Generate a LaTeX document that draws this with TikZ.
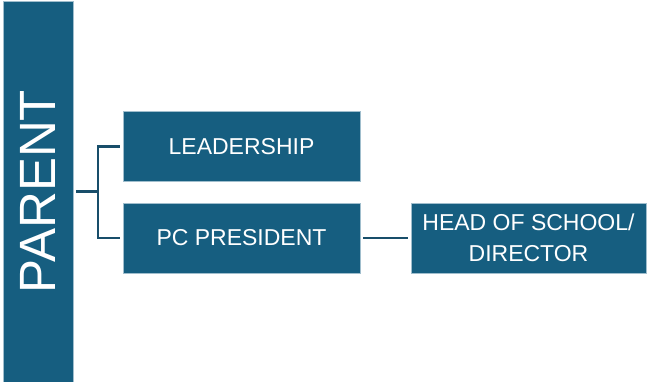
\documentclass[tikz,border=0pt]{standalone}
\usepackage{fontspec}
\setmainfont{Liberation Sans}
\usetikzlibrary{positioning}
\definecolor{boxblue}{RGB}{22,94,128}
\definecolor{boxedge}{RGB}{160,190,205}
\definecolor{linkblue}{RGB}{24,78,106}

\begin{document}
\begin{tikzpicture}[x=1pt,y=-1pt,
		orgbox/.style={draw=boxedge,line width=0.6pt,fill=boxblue,text=white,align=center,
			inner sep=0pt,minimum width=237pt,minimum height=70pt,
			font=\fontsize{23}{31}\selectfont},
		link/.style={draw=linkblue,line width=2.6pt,shorten <=3pt,shorten >=3pt}]
		\useasboundingbox (0,0) rectangle (648,382);
		\node[orgbox,minimum width=70pt,minimum height=381pt] (parent) at (38,191.5)
			{\rotatebox{90}{\fontsize{51}{51}\selectfont PARENT}};
		\node[orgbox] (lead) at (241.5,146.5) {LEADERSHIP};
		\node[orgbox] (pc) at (241.5,238) {PC PRESIDENT};
		\node[orgbox,minimum width=235pt] (head) at (528.5,238) {HEAD OF SCHOOL/\\DIRECTOR};
		\coordinate (fork) at (98,191.5);
		\draw[link,shorten >=0pt] (parent.east) -- (fork);
		\draw[link] (lead.west) -| (fork) |- (pc.west);
		\draw[link] (pc.east) -- (head.west);
	\end{tikzpicture}
\end{document}
